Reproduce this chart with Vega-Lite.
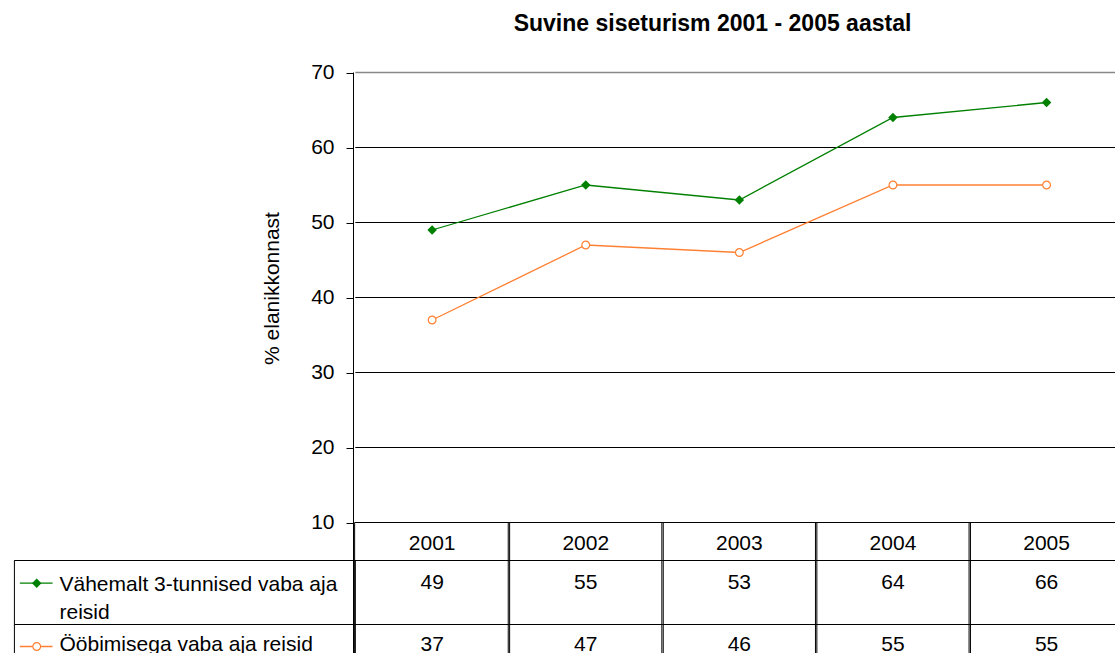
{
  "$schema": "https://vega.github.io/schema/vega-lite/v6.json",
  "width": 1115,
  "height": 581,
  "autosize": {"type": "none"},
  "padding": {"left": 0, "top": 72, "right": 0, "bottom": 0},
  "background": "white",
  "title": {
    "text": "Suvine siseturism 2001 - 2005 aastal",
    "font": "Liberation Sans",
    "fontSize": 23,
    "fontWeight": "bold",
    "color": "black",
    "anchor": "middle",
    "frame": "group",
    "dx": 155,
    "baseline": "alphabetic",
    "offset": 8
  },
  "datasets": {
    "pts": [
      {"year": 2001, "series": "Vähemalt 3-tunnised vaba aja reisid", "value": 49},
      {"year": 2002, "series": "Vähemalt 3-tunnised vaba aja reisid", "value": 55},
      {"year": 2003, "series": "Vähemalt 3-tunnised vaba aja reisid", "value": 53},
      {"year": 2004, "series": "Vähemalt 3-tunnised vaba aja reisid", "value": 64},
      {"year": 2005, "series": "Vähemalt 3-tunnised vaba aja reisid", "value": 66},
      {"year": 2001, "series": "Ööbimisega vaba aja reisid", "value": 37},
      {"year": 2002, "series": "Ööbimisega vaba aja reisid", "value": 47},
      {"year": 2003, "series": "Ööbimisega vaba aja reisid", "value": 46},
      {"year": 2004, "series": "Ööbimisega vaba aja reisid", "value": 55},
      {"year": 2005, "series": "Ööbimisega vaba aja reisid", "value": 55}
    ],
    "grid": [{"v": 20}, {"v": 30}, {"v": 40}, {"v": 50}, {"v": 60}],
    "one": [{}]
  },
  "layer": [
    {
      "data": {"name": "grid"},
      "mark": {"type": "rule", "color": "#000000", "strokeWidth": 1},
      "encoding": {
        "x": {"datum": 2000.5, "type": "quantitative", "scale": {"domain": [1998.21935, 2005.4129], "nice": false, "zero": false}},
        "x2": {"datum": 2005.6},
        "y": {"field": "v", "type": "quantitative", "scale": {"domain": [-7.4, 70.0667], "nice": false, "zero": false}}
      }
    },
    {
      "data": {"name": "one"},
      "mark": {"type": "rule", "color": "#888888", "strokeWidth": 1.5},
      "encoding": {
        "x": {"datum": 2000.5, "type": "quantitative"},
        "x2": {"datum": 2005.6},
        "y": {"datum": 70, "type": "quantitative"}
      }
    },
    {
      "data": {"name": "pts"},
      "transform": [{"filter": "datum.series === 'Vähemalt 3-tunnised vaba aja reisid'"}],
      "mark": {"type": "bar", "width": 155, "filled": false, "stroke": "black", "strokeWidth": 1},
      "encoding": {
        "x": {"field": "year", "type": "quantitative"},
        "y": {"datum": 10, "type": "quantitative"},
        "y2": {"datum": -9}
      }
    },
    {
      "data": {"name": "one"},
      "mark": {"type": "rule", "color": "black", "strokeWidth": 1},
      "encoding": {
        "x": {"datum": 1998.2806, "type": "quantitative"},
        "x2": {"datum": 2005.6},
        "y": {"datum": 4.9333, "type": "quantitative"}
      }
    },
    {
      "data": {"name": "one"},
      "mark": {"type": "rule", "color": "black", "strokeWidth": 1},
      "encoding": {
        "x": {"datum": 1998.2806, "type": "quantitative"},
        "x2": {"datum": 2005.6},
        "y": {"datum": -3.6, "type": "quantitative"}
      }
    },
    {
      "data": {"name": "one"},
      "mark": {"type": "rect", "filled": false, "stroke": "black", "strokeWidth": 1},
      "encoding": {
        "x": {"datum": 1998.2806, "type": "quantitative"},
        "x2": {"datum": 2000.5},
        "y": {"datum": 4.9333, "type": "quantitative"},
        "y2": {"datum": -9}
      }
    },
    {
      "data": {"name": "pts"},
      "mark": {"type": "line", "strokeWidth": 1.3},
      "encoding": {
        "x": {"field": "year", "type": "quantitative"},
        "y": {
          "field": "value",
          "type": "quantitative",
          "axis": {
            "values": [10, 20, 30, 40, 50, 60, 70],
            "offset": -353,
            "title": "% elanikkonnast",
            "titleFont": "Liberation Sans",
            "titleFontSize": 21,
            "titleFontWeight": "normal",
            "titleColor": "black",
            "titleX": -81,
            "titleY": 216,
            "titleAngle": -90,
            "titleBaseline": "middle",
            "titleAlign": "center",
            "labelFont": "Liberation Sans",
            "labelFontSize": 21,
            "labelColor": "black",
            "labelPadding": 12,
            "tickSize": 7,
            "tickColor": "black",
            "domainColor": "black",
            "grid": false
          }
        },
        "color": {
          "field": "series",
          "type": "nominal",
          "scale": {"domain": ["Vähemalt 3-tunnised vaba aja reisid", "Ööbimisega vaba aja reisid"], "range": ["#008000", "#FF8033"]},
          "legend": null
        }
      }
    },
    {
      "data": {"name": "pts"},
      "transform": [{"filter": "datum.series === 'Vähemalt 3-tunnised vaba aja reisid'"}],
      "mark": {"type": "point", "shape": "diamond", "filled": true, "color": "#008000", "size": 90, "opacity": 1},
      "encoding": {
        "x": {"field": "year", "type": "quantitative"},
        "y": {"field": "value", "type": "quantitative"}
      }
    },
    {
      "data": {"name": "pts"},
      "transform": [{"filter": "datum.series === 'Ööbimisega vaba aja reisid'"}],
      "mark": {"type": "point", "shape": "circle", "filled": false, "fill": "white", "stroke": "#FF8033", "strokeWidth": 1.2, "size": 60, "opacity": 1, "fillOpacity": 1},
      "encoding": {
        "x": {"field": "year", "type": "quantitative"},
        "y": {"field": "value", "type": "quantitative"}
      }
    },
    {
      "data": {"name": "pts"},
      "transform": [{"filter": "datum.series === 'Vähemalt 3-tunnised vaba aja reisid'"}],
      "mark": {"type": "text", "baseline": "alphabetic", "align": "center", "fontSize": 21, "color": "black"},
      "encoding": {
        "x": {"field": "year", "type": "quantitative"},
        "y": {"datum": 6.4, "type": "quantitative"},
        "text": {"field": "year", "type": "ordinal"}
      }
    },
    {
      "data": {"name": "pts"},
      "transform": [{"filter": "datum.series === 'Vähemalt 3-tunnised vaba aja reisid'"}],
      "mark": {"type": "text", "baseline": "alphabetic", "align": "center", "fontSize": 21, "color": "black"},
      "encoding": {
        "x": {"field": "year", "type": "quantitative"},
        "y": {"datum": 1.2, "type": "quantitative"},
        "text": {"field": "value", "type": "quantitative"}
      }
    },
    {
      "data": {"name": "pts"},
      "transform": [{"filter": "datum.series === 'Ööbimisega vaba aja reisid'"}],
      "mark": {"type": "text", "baseline": "alphabetic", "align": "center", "fontSize": 21, "color": "black"},
      "encoding": {
        "x": {"field": "year", "type": "quantitative"},
        "y": {"datum": -7.133, "type": "quantitative"},
        "text": {"field": "value", "type": "quantitative"}
      }
    },
    {
      "data": {"name": "one"},
      "mark": {"type": "rule", "color": "#008000", "strokeWidth": 1.3},
      "encoding": {
        "x": {"datum": 1998.3161, "type": "quantitative"},
        "x2": {"datum": 1998.529},
        "y": {"datum": 1.907, "type": "quantitative"}
      }
    },
    {
      "data": {"name": "one"},
      "mark": {"type": "point", "shape": "diamond", "filled": true, "color": "#008000", "size": 90, "opacity": 1},
      "encoding": {
        "x": {"datum": 1998.4258, "type": "quantitative"},
        "y": {"datum": 1.907, "type": "quantitative"}
      }
    },
    {
      "data": {"name": "one"},
      "mark": {"type": "rule", "color": "#FF8033", "strokeWidth": 1.3},
      "encoding": {
        "x": {"datum": 1998.3161, "type": "quantitative"},
        "x2": {"datum": 1998.529},
        "y": {"datum": -6.533, "type": "quantitative"}
      }
    },
    {
      "data": {"name": "one"},
      "mark": {"type": "point", "shape": "circle", "filled": false, "fill": "white", "stroke": "#FF8033", "strokeWidth": 1.2, "size": 60, "opacity": 1, "fillOpacity": 1},
      "encoding": {
        "x": {"datum": 1998.4258, "type": "quantitative"},
        "y": {"datum": -6.533, "type": "quantitative"}
      }
    },
    {
      "data": {"name": "one"},
      "mark": {"type": "text", "baseline": "alphabetic", "align": "left", "fontSize": 21, "color": "black", "lineHeight": 28},
      "encoding": {
        "x": {"datum": 1998.5742, "type": "quantitative"},
        "y": {"datum": 0.933, "type": "quantitative"},
        "text": {"value": ["Vähemalt 3-tunnised vaba aja", "reisid"]}
      }
    },
    {
      "data": {"name": "one"},
      "mark": {"type": "text", "baseline": "alphabetic", "align": "left", "fontSize": 21, "color": "black"},
      "encoding": {
        "x": {"datum": 1998.5742, "type": "quantitative"},
        "y": {"datum": -7.133, "type": "quantitative"},
        "text": {"value": "Ööbimisega vaba aja reisid"}
      }
    }
  ],
  "config": {
    "font": "Liberation Sans",
    "view": {"stroke": null},
    "axisX": {"disable": true},
    "text": {"font": "Liberation Sans"}
  }
}
